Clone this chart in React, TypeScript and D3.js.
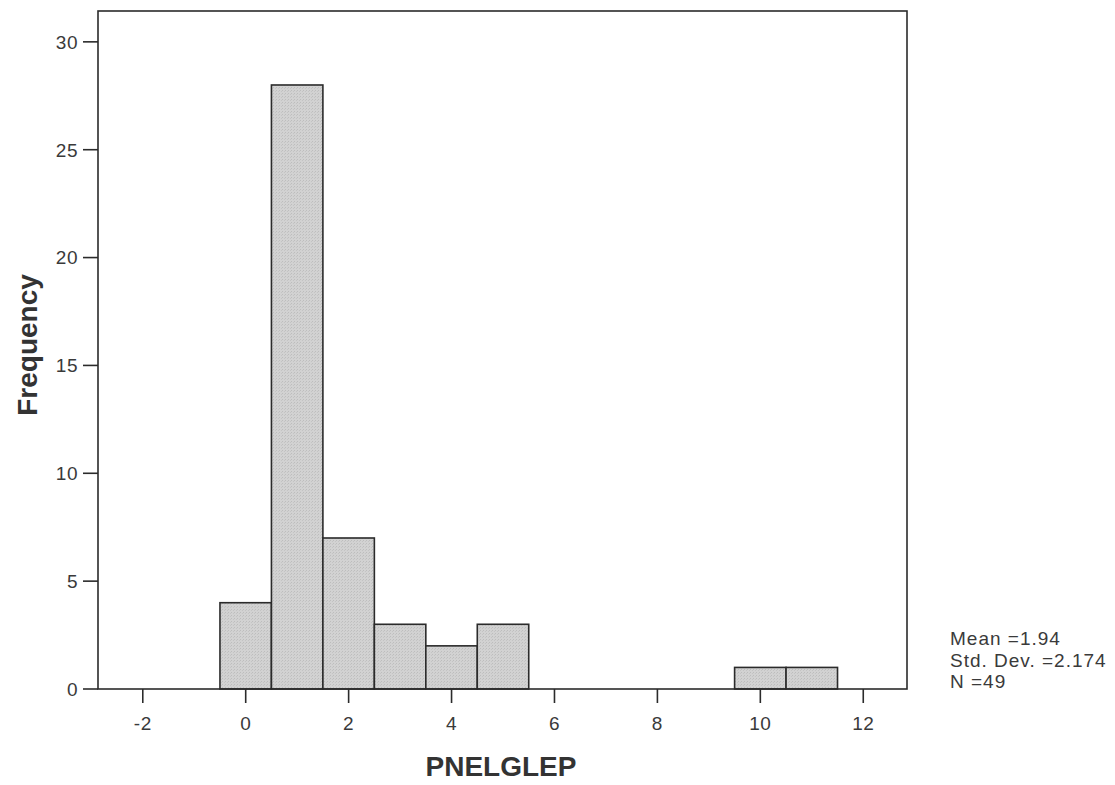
import React from "react";
import * as d3 from "d3";

// Histogram of PNELGLEP, unit-width bins centred on integers
const binCenters = [0, 1, 2, 3, 4, 5, 10, 11];
const frequencies = [4, 28, 7, 3, 2, 3, 1, 1];
const xTicks = [-2, 0, 2, 4, 6, 8, 10, 12];
const yTicks = [0, 5, 10, 15, 20, 25, 30];
const statsLines = ["Mean =1.94", "Std. Dev. =2.174", "N =49"];

const W = 1115;
const H = 785;
const plot = { left: 98, right: 907, top: 11, bottom: 689 };

export default function App() {
  const x = d3.scaleLinear().domain([-2.87, 12.85]).range([plot.left, plot.right]);
  const y = d3.scaleLinear().domain([0, 31.43]).range([plot.bottom, plot.top]);
  const font = "'Liberation Sans', Arial, sans-serif";
  const ink = "#2b2b2b";
  const textInk = "#3a3a3a";

  return (
    <svg width={W} height={H} style={{ position: "absolute", left: 0, top: 0, background: "#fff" }}>
      <defs>
        <pattern id="grain" width="3" height="3" patternUnits="userSpaceOnUse">
          <rect width="3" height="3" fill="#d2d2d2" />
          <rect width="1" height="1" fill="#bdbdbd" />
          <rect x="2" y="1" width="1" height="1" fill="#c4c4c4" />
        </pattern>
      </defs>

      {/* bars */}
      {binCenters.map((c, i) => (
        <rect
          key={c}
          x={x(c - 0.5)}
          y={y(frequencies[i])}
          width={x(c + 0.5) - x(c - 0.5)}
          height={y(0) - y(frequencies[i])}
          fill="url(#grain)"
          stroke={ink}
          strokeWidth={1.6}
        />
      ))}

      {/* frame */}
      <rect
        x={plot.left}
        y={plot.top}
        width={plot.right - plot.left}
        height={plot.bottom - plot.top}
        fill="none"
        stroke={ink}
        strokeWidth={1.6}
      />

      {/* y axis */}
      {yTicks.map((t) => (
        <g key={t}>
          <line x1={plot.left - 15} x2={plot.left} y1={y(t)} y2={y(t)} stroke={ink} strokeWidth={1.6} />
          <text
            x={plot.left - 20}
            y={y(t)}
            dy="0.36em"
            textAnchor="end"
            fontFamily={font}
            fontSize={19}
            letterSpacing={0.5}
            fill={textInk}
          >
            {t}
          </text>
        </g>
      ))}

      {/* x axis */}
      {xTicks.map((t) => (
        <g key={t}>
          <line x1={x(t)} x2={x(t)} y1={plot.bottom} y2={plot.bottom + 14} stroke={ink} strokeWidth={1.6} />
          <text
            x={x(t)}
            y={plot.bottom + 41}
            textAnchor="middle"
            fontFamily={font}
            fontSize={19}
            letterSpacing={0.5}
            fill={textInk}
          >
            {t}
          </text>
        </g>
      ))}

      {/* axis titles */}
      <text
        x={501}
        y={776}
        textAnchor="middle"
        fontFamily={font}
        fontWeight="bold"
        fontSize={28}
        fill="#333"
      >
        PNELGLEP
      </text>
      <text
        transform={`translate(37, 345) rotate(-90)`}
        textAnchor="middle"
        fontFamily={font}
        fontWeight="bold"
        fontSize={28}
        fill="#333"
      >
        Frequency
      </text>

      {/* summary statistics */}
      {statsLines.map((s, i) => (
        <text
          key={s}
          x={950}
          y={645 + i * 21.5}
          fontFamily={font}
          fontSize={19}
          letterSpacing={1}
          fill={textInk}
        >
          {s}
        </text>
      ))}
    </svg>
  );
}
